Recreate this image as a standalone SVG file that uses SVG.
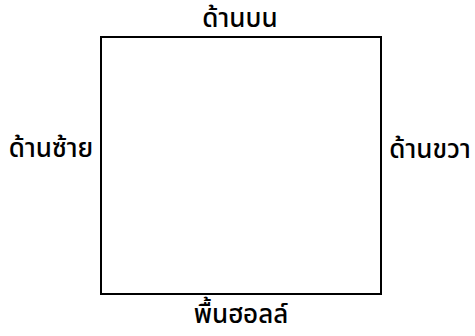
<svg xmlns="http://www.w3.org/2000/svg" width="475" height="336" viewBox="0 0 475 336">
<style>
.lbl{font-family:"Noto Sans","Noto Sans Thai","DejaVu Sans",sans-serif;font-size:26px;font-weight:500;fill:#000}
.box{fill:#fff;stroke:#000;stroke-width:2}
</style>
<rect width="475" height="336" fill="#fff"/>
<g id="box"><rect class="box" x="101" y="37" width="280" height="257"/></g>
<g id="top"><text class="lbl" x="240" y="27" text-anchor="middle">ด้านบน</text></g>
<g id="left"><text class="lbl" x="51" y="157" text-anchor="middle">ด้านซ้าย</text></g>
<g id="right"><text class="lbl" x="430" y="158" text-anchor="middle">ด้านขวา</text></g>
<g id="bottom"><text class="lbl" x="241" y="323" text-anchor="middle">พื้นฮอลล์</text></g>
<g id="connectors"></g>
</svg>
